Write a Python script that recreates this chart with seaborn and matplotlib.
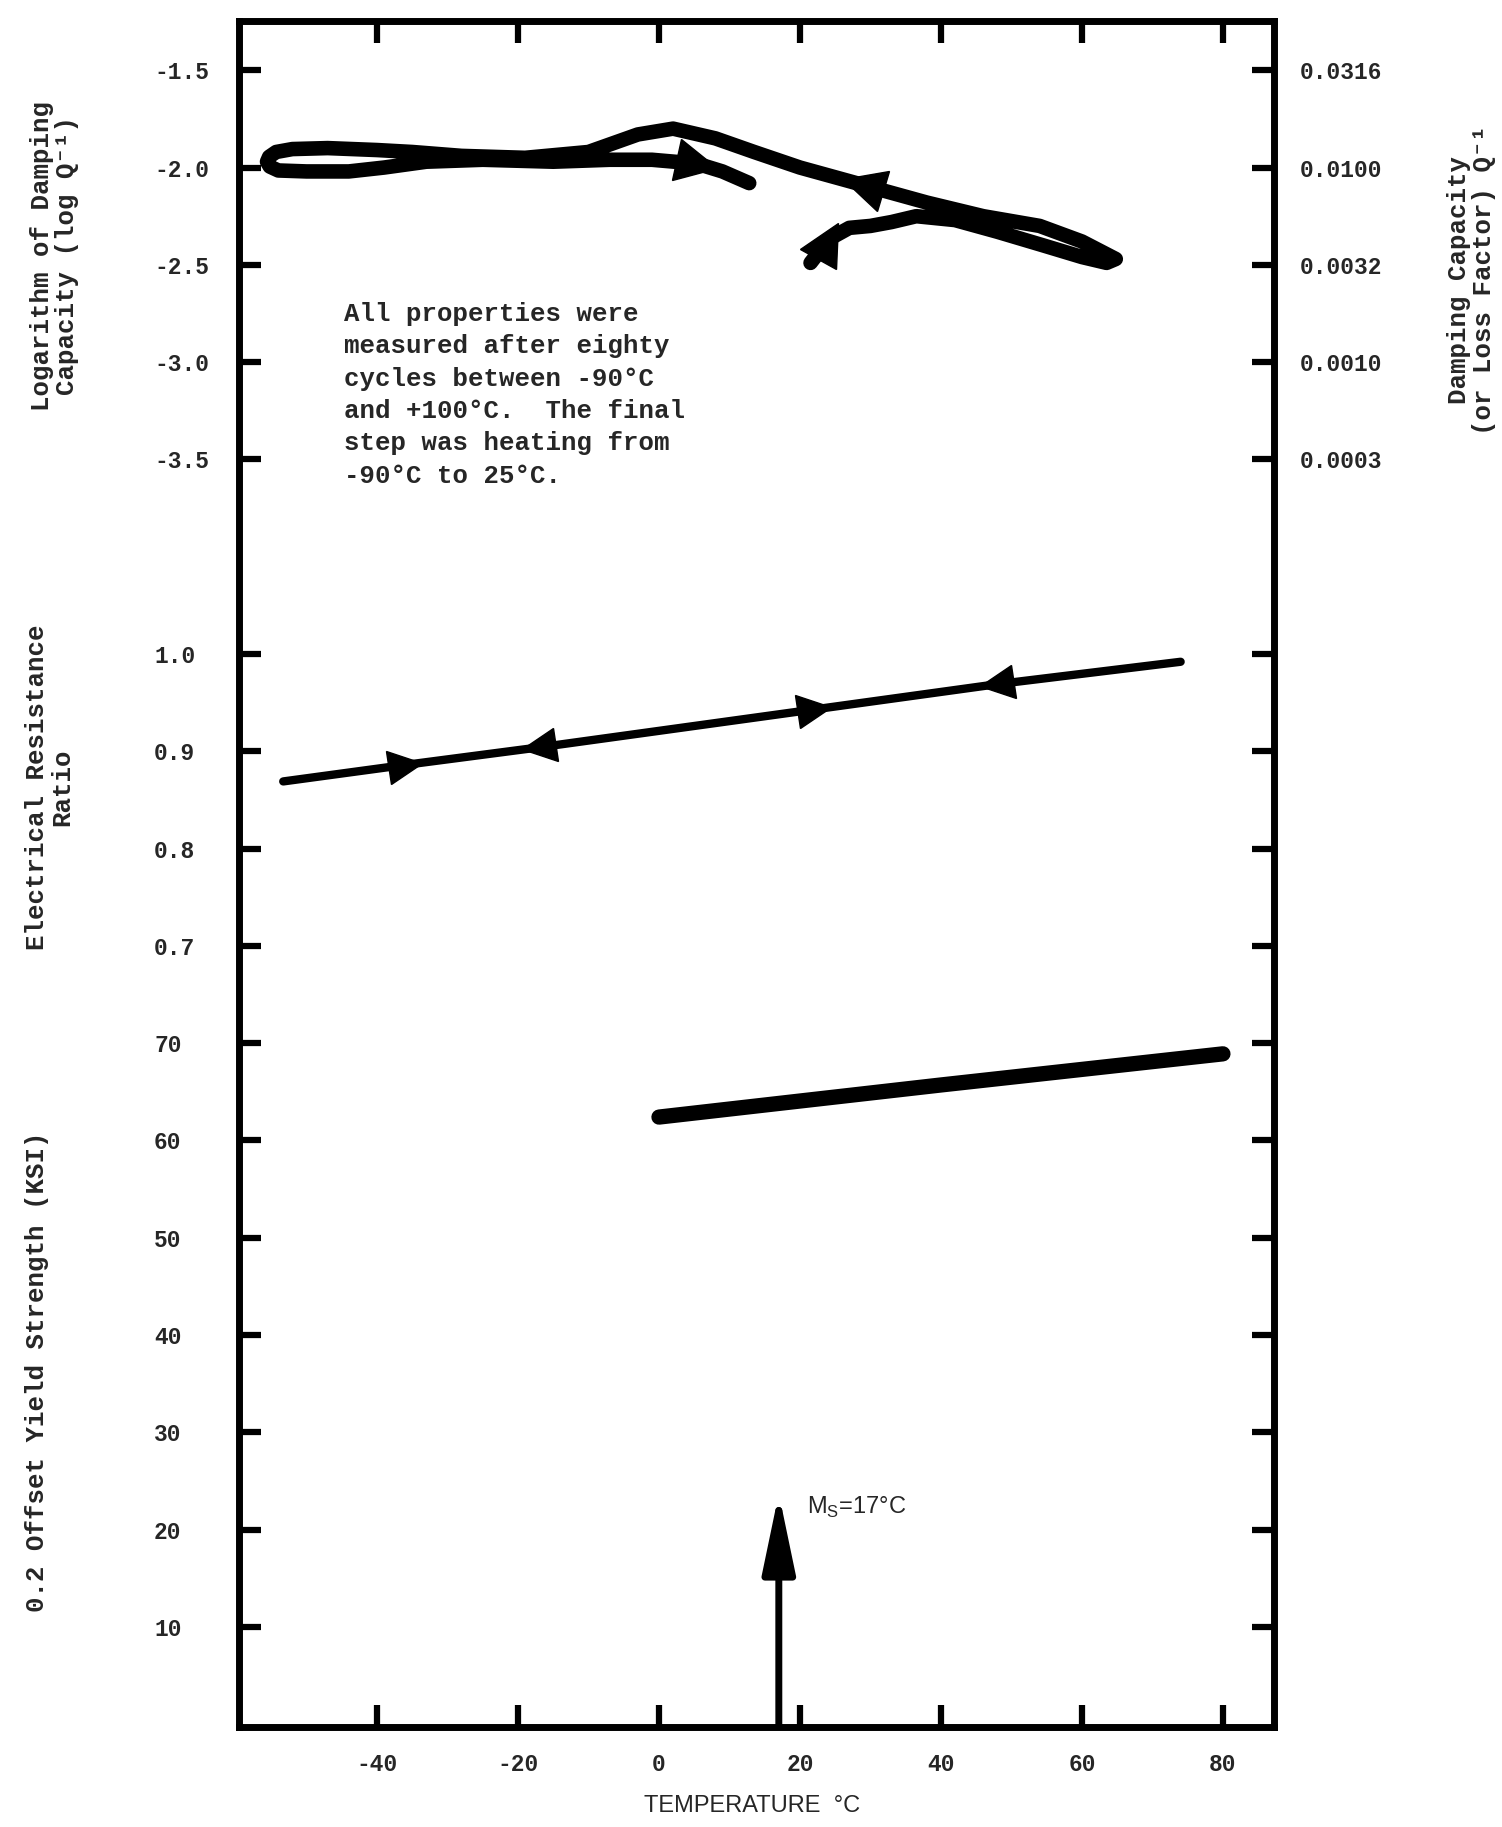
import pandas as pd
import matplotlib
matplotlib.use('Agg')
import matplotlib.pyplot as plt
import seaborn as sns
from matplotlib.markers import MarkerStyle
from matplotlib.transforms import Affine2D

# ---- data ----
# damping capacity path, log Q^-1, in the order the sample was cycled
damp_temp = [21.5, 23.0, 24.5, 27.0, 30.0, 33.0, 36.5, 42.0, 48.0, 54.5, 60.0, 63.5, 64.8,
             60.0, 54.0, 46.0, 38.0, 29.0, 20.0, 13.5, 8.0, 2.0, -3.0, -10.0, -19.0, -28.0,
             -35.0, -40.0, -47.0, -52.0, -54.3, -55.3, -55.6, -55.2, -54.0, -50.0, -44.0, -39.0, -33.0,
             -25.0, -15.0, -7.0, -1.0, 5.4, 9.0, 12.8]
damp_logq = [-2.49, -2.42, -2.36, -2.31, -2.30, -2.28, -2.25, -2.27, -2.33, -2.40, -2.46, -2.49, -2.47,
             -2.38, -2.30, -2.25, -2.18, -2.09, -2.00, -1.92, -1.85, -1.80, -1.83, -1.92, -1.95, -1.94,
             -1.92, -1.91, -1.90, -1.905, -1.92, -1.945, -1.97, -1.995, -2.015, -2.02, -2.02, -2.00, -1.97,
             -1.96, -1.97, -1.96, -1.96, -1.98, -2.02, -2.08]
damp_arrow_temp = [29.0, 5.4, 24.0]
damp_arrow_logq = [-2.09, -1.98, -2.38]

# electrical resistance ratio
res_temp = [-53.3, -36.0, -17.0, 0.0, 22.0, 48.0, 74.0]
res_ratio = [0.869, 0.886, 0.904, 0.921, 0.943, 0.969, 0.992]
res_arrow_temp = [-36.0, -17.0, 22.0, 48.0]
res_arrow_ratio = [0.886, 0.904, 0.943, 0.969]

# 0.2 offset yield strength (ksi)
yield_temp = [0.0, 40.0, 80.0]
yield_ksi = [62.4, 65.7, 68.9]

ms_temp = 17
ms_tip = 24

x_ticks = [-40, -20, 0, 20, 40, 60, 80]
damp_ticks = [-1.5, -2.0, -2.5, -3.0, -3.5]
res_ticks = [1.0, 0.9, 0.8, 0.7]
yield_ticks = [70, 60, 50, 40, 30, 20, 10]
loss_labels = ['0.0316', '0.0100', '0.0032', '0.0010', '0.0003']
loss_extra = [-4.5, -5.0, -5.5, -6.0, -6.5, -7.0, -7.5, -8.0, -8.5, -9.0, -9.5]

note = ("All properties were\nmeasured after eighty\ncycles between -90°C\n"
        "and +100°C.  The final\nstep was heating from\n-90°C to 25°C.")

# ---- style ----
sns.set_theme(style='white')
plt.rcParams['font.family'] = ['Liberation Mono', 'DejaVu Sans Mono']
plt.rcParams['axes.unicode_minus'] = False

fig = plt.figure(figsize=(15.02, 18.27), dpi=100)
rect = [0.159, 0.0547, 0.689, 0.934]
ax = fig.add_axes(rect)                 # yield strength axis, carries the frame
ax_r = fig.add_axes(rect, sharex=ax)    # resistance ratio
ax_d = fig.add_axes(rect, sharex=ax)    # log damping
ax_q = ax_d.twinx()                     # damping capacity on the right

ax.set_xlim(-59.6, 87.2)
ax.set_ylim(-0.3, 175.1)
ax_r.set_ylim(-0.103, 1.651)
ax_d.set_ylim(-10.015, -1.245)
ax_q.set_ylim(-10.015, -1.245)

for a in (ax_r, ax_d, ax_q):
    a.patch.set_visible(False)
    for s in a.spines.values():
        s.set_visible(False)
for s in ax.spines.values():
    s.set_linewidth(5)
    s.set_color('black')

tick_kw = dict(direction='in', length=16, width=4.5, color='black', labelsize=16.5)
ax.set_xticks(x_ticks)
ax.set_xticklabels([str(t) for t in x_ticks], fontweight='bold')
ax.tick_params(axis='x', bottom=True, top=True, labeltop=False, pad=19, **tick_kw)
for a, ticks, labels in ((ax, yield_ticks, [str(t) for t in yield_ticks]),
                         (ax_r, res_ticks, ['%.1f' % t for t in res_ticks]),
                         (ax_d, damp_ticks, ['%.1f' % t for t in damp_ticks])):
    a.set_yticks(ticks)
    a.set_yticklabels(labels, ha='left', fontweight='bold')
    a.tick_params(axis='y', left=True, right=False, pad=61, **tick_kw)
for a in (ax_r, ax_d, ax_q):
    a.tick_params(axis='x', bottom=False, top=False, labelbottom=False)
ax_q.set_yticks(damp_ticks + loss_extra)
ax_q.set_yticklabels(loss_labels + [''] * len(loss_extra), fontweight='bold')
ax_q.tick_params(axis='y', left=False, right=True, pad=19, **tick_kw)
for a in (ax, ax_r, ax_d, ax_q):
    a.grid(False)

# ---- curves ----
damp_df = pd.DataFrame({'temp': damp_temp, 'logq': damp_logq})
res_df = pd.DataFrame({'temp': res_temp, 'ratio': res_ratio})
yield_df = pd.DataFrame({'temp': yield_temp, 'ksi': yield_ksi})

sns.lineplot(data=damp_df, x='temp', y='logq', ax=ax_d, sort=False, estimator=None,
             color='black', lw=10.5, solid_capstyle='round', solid_joinstyle='round')
sns.lineplot(data=res_df, x='temp', y='ratio', ax=ax_r, sort=False, estimator=None,
             color='black', lw=6, solid_capstyle='round')
sns.lineplot(data=yield_df, x='temp', y='ksi', ax=ax, sort=False, estimator=None,
             color='black', lw=11, solid_capstyle='round')
for a in (ax, ax_r, ax_d, ax_q):
    a.set_xlabel('')
    a.set_ylabel('')


def arrow_mark(axis, x, y, angle, size):
    m = MarkerStyle('>', transform=Affine2D().rotate_deg(angle))
    axis.plot([x], [y], marker=m, ms=size, color='black', ls='none')


for x, y, ang in zip(damp_arrow_temp, damp_arrow_logq, [164, -12, 60]):
    arrow_mark(ax_d, x, y, ang, 30)
for x, y, ang in zip(res_arrow_temp, res_arrow_ratio, [7.7, 187.7, 7.7, 187.7]):
    arrow_mark(ax_r, x, y, ang, 24)

# M_s marker arrow
ax.annotate('', xy=(ms_temp, ms_tip), xytext=(ms_temp, -0.3),
            arrowprops=dict(arrowstyle='-|>,head_length=2.4,head_width=0.5',
                            mutation_scale=20, lw=5, color='black'))
ax.text(21.0, 22.3, 'M$_\\mathregular{S}$=17°C', fontsize=17, va='center', ha='left',
        family=['Liberation Sans', 'DejaVu Sans'])

ax_d.text(-44.7, -2.69, note, fontsize=18.5, fontweight='bold', va='top', ha='left',
          linespacing=1.44)

# ---- axis titles ----
lab_kw = dict(rotation=90, ha='center', va='center', multialignment='center',
              fontsize=18.5, fontweight='bold', linespacing=1.1)
fig.text(0.0363, 0.860, 'Logarithm of Damping\nCapacity (log Q⁻¹)', **lab_kw)
fig.text(0.033, 0.569, 'Electrical Resistance\nRatio', **lab_kw)
fig.text(0.0245, 0.249, '0.2 Offset Yield Strength (KSI)', **lab_kw)
fig.text(0.9797, 0.8467, 'Damping Capacity\n(or Loss Factor) Q⁻¹', **lab_kw)
fig.text(0.5007, 0.0115, 'TEMPERATURE  °C', ha='center', va='center', fontsize=17,
         family=['Liberation Sans', 'DejaVu Sans'])

fig.savefig('out.png', dpi=100, facecolor='white')
